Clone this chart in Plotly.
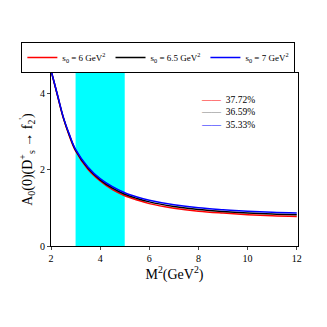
import plotly.graph_objects as go

# Borel mass grid and form factor values
m2 = [2, 2.25, 2.5, 2.75, 3, 3.5, 4, 4.5, 5, 5.5, 6, 7, 8, 9, 10, 11, 12]
a0_s6 = [4.62, 3.99, 3.37, 2.89, 2.50, 2.02, 1.71, 1.48, 1.32, 1.21, 1.115, 0.995, 0.915, 0.865, 0.825, 0.795, 0.775]
a0_s65 = [4.62, 4.00, 3.38, 2.91, 2.52, 2.05, 1.74, 1.52, 1.36, 1.25, 1.16, 1.04, 0.96, 0.91, 0.87, 0.84, 0.82]
a0_s7 = [4.62, 4.01, 3.39, 2.93, 2.54, 2.08, 1.77, 1.56, 1.40, 1.29, 1.205, 1.085, 1.005, 0.955, 0.915, 0.885, 0.865]

names = ["s<sub>0</sub> = 6 GeV<sup>2</sup>", "s<sub>0</sub> = 6.5 GeV<sup>2</sup>", "s<sub>0</sub> = 7 GeV<sup>2</sup>"]
colors = ["red", "black", "blue"]
pct_labels = ["37.72%", "36.59%", "35.33%"]
pct_colors = ["red", "gray", "blue"]

window = [3, 5]

fig = go.Figure()

for y, nm, c in zip([a0_s6, a0_s65, a0_s7], names, colors):
    fig.add_trace(go.Scatter(x=m2, y=y, mode="lines", name=nm,
                             line=dict(color=c, width=1.5, shape="spline")))

# working window
fig.add_shape(type="rect", x0=window[0], x1=window[1], y0=0, y1=1,
              xref="x", yref="paper", fillcolor="#00FFFF", line_width=0, layer="below")

# pole contribution key (coloured dashes as line samples)
pct_text = "<br>".join(
    f"<span style='color:{c}'>——</span>  {lab}" for lab, c in zip(pct_labels, pct_colors))
fig.add_annotation(text=pct_text, xref="paper", yref="paper", x=0.6, y=0.885,
                   xanchor="left", yanchor="top", showarrow=False, align="left",
                   font=dict(family="Liberation Serif", size=9.5, color="black"))

font = dict(family="Liberation Serif", size=10, color="black")

fig.update_layout(
    width=319, height=319,
    margin=dict(l=43, r=29, t=65, b=81, autoexpand=False),
    plot_bgcolor="white", paper_bgcolor="white",
    font=font,
    showlegend=True,
    legend=dict(orientation="h", x=-0.12, xanchor="left", y=1.0, yanchor="bottom",
                bordercolor="black", borderwidth=1, bgcolor="white",
                font=dict(family="Liberation Serif", size=9),
                itemwidth=30, tracegroupgap=0),
)

fig.update_xaxes(range=[2, 12.05], tickvals=[2, 4, 6, 8, 10, 12], ticks="outside", ticklen=3,
                 showline=True, linecolor="black", linewidth=1, mirror=True, showgrid=False,
                 zeroline=False, tickfont=font,
                 title=dict(text="M<sup>2</sup>(GeV<sup>2</sup>)", font=dict(family="Liberation Serif", size=14), standoff=2))
fig.update_yaxes(range=[0, 4.55], tickvals=[0, 2, 4], ticks="outside", ticklen=3,
                 showline=True, linecolor="black", linewidth=1, mirror=True, showgrid=False,
                 zeroline=False, tickfont=font,
                 title=dict(text="A<sub>0</sub>(0)(D<sup>+</sup><sub>s</sub> → f<sub>2</sub><sup>'</sup>)",
                            font=dict(family="Liberation Serif", size=14), standoff=4))

fig.write_html("out.html")
